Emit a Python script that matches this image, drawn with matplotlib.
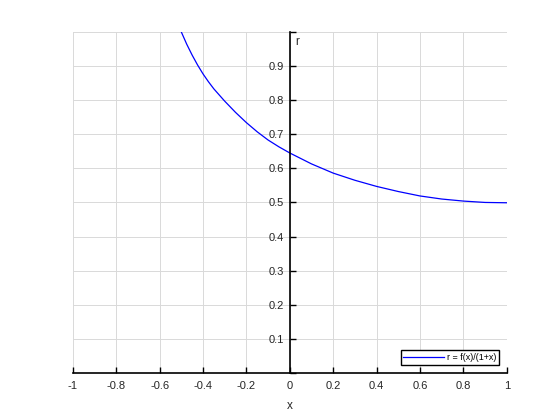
import matplotlib.pyplot as plt
import numpy as np

# Values
x_vals = [-0.5, -0.475, -0.45, -0.425, -0.4, -0.375, -0.35, -0.3, -0.25, -0.2, -0.15,
          -0.1, -0.05, 0.0, 0.1, 0.2, 0.3, 0.4, 0.5, 0.6, 0.7, 0.8, 0.9, 1.0]
r_vals = [1.0, 0.964, 0.932, 0.903, 0.877, 0.854, 0.833, 0.797, 0.764, 0.734, 0.707,
          0.683, 0.663, 0.645, 0.613, 0.586, 0.565, 0.547, 0.532, 0.519, 0.510, 0.504,
          0.500, 0.499]

x_ticks = [-1, -0.8, -0.6, -0.4, -0.2, 0, 0.2, 0.4, 0.6, 0.8, 1]
x_tick_labels = ['-1', '-0.8', '-0.6', '-0.4', '-0.2', '0', '0.2', '0.4', '0.6', '0.8', '1']
y_ticks = [0, 0.1, 0.2, 0.3, 0.4, 0.5, 0.6, 0.7, 0.8, 0.9, 1.0]
y_tick_labels = ['', '0.1', '0.2', '0.3', '0.4', '0.5', '0.6', '0.7', '0.8', '0.9', '']

plt.rcParams['font.family'] = ['Liberation Sans', 'DejaVu Sans']

fig = plt.figure(figsize=(5.6, 4.2), dpi=100)
ax = fig.add_axes([0.130, 0.112, 0.775, 0.812])

ax.plot(x_vals, r_vals, color='#0000ff', linewidth=0.9, label='r = f(x)/(1+x)')

ax.set_xlim(-1, 1)
ax.set_ylim(0, 1)

# Axes through the origin, like Octave's axislocation "origin"
ax.spines['left'].set_position(('data', 0))
ax.spines['bottom'].set_position(('data', 0))
ax.spines['top'].set_visible(False)
ax.spines['right'].set_visible(False)
for s in ('left', 'bottom'):
    ax.spines[s].set_linewidth(1.2)
    ax.spines[s].set_color('black')

ax.set_xticks(x_ticks)
ax.set_xticklabels(x_tick_labels)
ax.set_yticks(y_ticks)
ax.set_yticklabels(y_tick_labels)
ax.tick_params(axis='x', direction='in', length=4, width=1, labelsize=8, labelcolor='#262626', pad=6)
ax.tick_params(axis='y', direction='in', length=4, width=1, labelsize=8, labelcolor='#262626', pad=4)

ax.grid(True, color='#d9d9d9', linewidth=0.7)
ax.set_axisbelow(True)

ax.set_xlabel('x', fontsize=8.5, color='#262626')
ax.xaxis.set_label_coords(0.5, -0.08)
ax.set_ylabel('r', fontsize=8.5, color='#262626', rotation=0, ha='left', va='center')
ax.yaxis.set_label_coords(0.513, 0.97)

ax.legend(loc='lower right', fontsize=6.5, frameon=True, fancybox=False,
          edgecolor='black', framealpha=1, handlelength=4.5, borderpad=0.3,
          borderaxespad=0.9, handletextpad=0.3)

fig.savefig('out.png', dpi=100)
